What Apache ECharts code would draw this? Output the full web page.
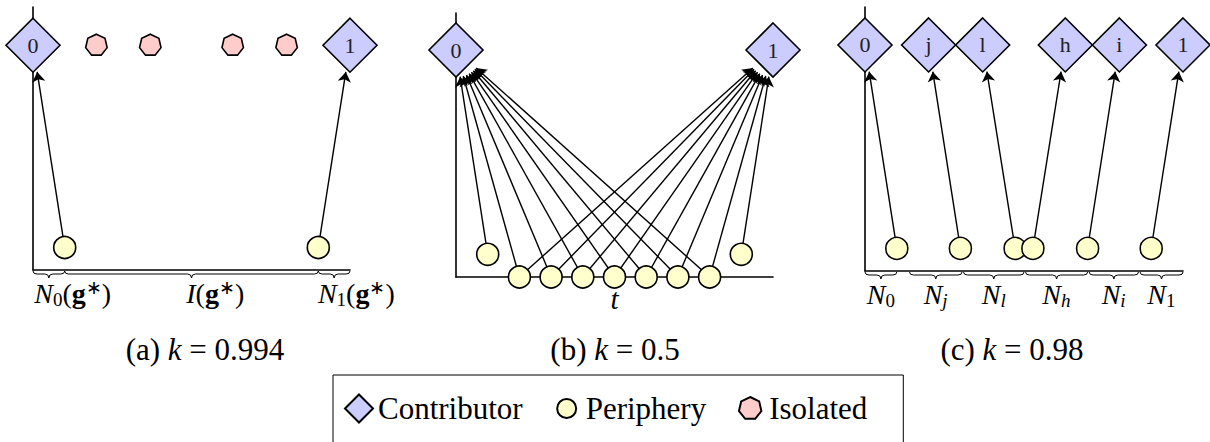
<!DOCTYPE html>
<html><head><meta charset="utf-8">
<script src="https://cdn.jsdelivr.net/npm/echarts@6/dist/echarts.min.js"></script>
<style>html,body{margin:0;padding:0;background:#fff}#c{width:1210px;height:442px}</style>
</head><body><div id="c"></div>
<script>
// ---------- DATA ----------
// Panel (a) k = 0.994
const aContributors = [['0', 0, 1], ['1', 10, 1]];            // name, x, y
const aPeriphery = [['pa0', 1, 0.1, '0'], ['pa1', 9, 0.1, '1']]; // name, x, y, links to
const aIsolated = [['ia0', 2, 1], ['ia1', 3.7, 1], ['ia2', 6.3, 1], ['ia3', 8, 1]];
const aBraces = [[0, 1], [1, 9], [9, 10]];                       // brace from, to
const aBraceLabelX = [1.25, 5.75, 10.2];
const aBraceLabels = ['{i|N}{sub|0}{r|(}{b|g}{sup|∗}{r|)}', '{i|I}{r|(}{b|g}{sup|∗}{r|)}', '{i|N}{sub|1}{r|(}{b|g}{sup|∗}{r|)}'];

// Panel (b) k = 0.5
const bContributors = [['0', 0, 1], ['1', 10, 1]];
const bPeripherySide = [['pb0', 1, 0.1, ['0']], ['pb8', 9, 0.1, ['1']]];
const bPeripheryBottomX = [2, 3, 4, 5, 6, 7, 8];                 // on the t axis, linked to both 0 and 1
const bAxisName = 't';

// Panel (c) k = 0.98
const cContributors = [['0', 0, 1], ['j', 2, 1], ['l', 3.7, 1], ['h', 6.3, 1], ['i', 8, 1], ['1', 10, 1]];
const cPeriphery = [['pc0', 1, 0.1, '0'], ['pcj', 3, 0.1, 'j'], ['pcl', 4.72, 0.1, 'l'], ['pch', 5.28, 0.1, 'h'], ['pci', 7, 0.1, 'i'], ['pc1', 9, 0.1, '1']];
const cBraces = [[0, 1], [1.4, 3.05], [3.1, 5], [5.05, 7], [7.05, 8.6], [8.65, 10]];
const cBraceLabelX = [0.5, 2.22, 4.05, 6.02, 7.82, 9.32];
const cBraceLabels = ['{i|N}{sub|0}', '{i|N}{subi|j}', '{i|N}{subi|l}', '{i|N}{subi|h}', '{i|N}{subi|i}', '{i|N}{sub|1}'];

const captions = ['{r|(a) }{i|k}{r| = 0.994}', '{r|(b) }{i|k}{r| = 0.5}', '{r|(c) }{i|k}{r| = 0.98}'];
const categoryNames = ['Contributor', 'Periphery', 'Isolated'];

// ---------- STYLE ----------
const FONT = 'Liberation Serif';
function makeRich(fs) {
  const sf = Math.round(fs * 0.68), lh = Math.round(fs * 1.1), slh = Math.round(sf * 1.15);
  return {
    i: {fontFamily: FONT, fontStyle: 'italic', fontWeight: 'normal', fontSize: fs, lineHeight: lh, color: '#000'},
    r: {fontFamily: FONT, fontWeight: 'normal', fontSize: fs, lineHeight: lh, color: '#000'},
    b: {fontFamily: FONT, fontWeight: 'bold', fontSize: fs, lineHeight: lh, color: '#000'},
    sub: {fontFamily: FONT, fontWeight: 'normal', fontSize: sf, lineHeight: slh, verticalAlign: 'bottom', color: '#000'},
    subi: {fontFamily: FONT, fontStyle: 'italic', fontWeight: 'normal', fontSize: sf, lineHeight: slh, verticalAlign: 'bottom', color: '#000'},
    sup: {fontFamily: FONT, fontWeight: 'normal', fontSize: sf, lineHeight: slh, verticalAlign: 'top', color: '#000'}
  };
}
const labelRich = makeRich(28);
const captionRich = makeRich(31);

function polyPath(n, r, box) {
  let d = 'M' + (-box) + ' ' + (-box) + ' M' + box + ' ' + box + ' ';
  for (let k = 0; k < n; k++) {
    const a = -Math.PI / 2 + 2 * Math.PI * k / n;
    d += (k ? ' L' : 'M') + (r * Math.cos(a)).toFixed(3) + ' ' + (r * Math.sin(a)).toFixed(3);
  }
  return 'path://' + d + ' Z';
}
function circlePath(r, box) {
  return 'path://M' + (-box) + ' ' + (-box) + ' M' + box + ' ' + box +
    ' M' + r + ' 0 A' + r + ' ' + r + ' 0 1 1 ' + (-r) + ' 0 A' + r + ' ' + r + ' 0 1 1 ' + r + ' 0 Z';
}
const HEPT = polyPath(7, 10, 10);
const HEPT_ICON = polyPath(7, 11.5, 14);
const CIRCLE_ICON = circlePath(9.5, 14);

const catStyle = {
  Contributor: {symbol: 'diamond', symbolSize: 54, itemStyle: {color: '#ccccff', borderColor: '#000', borderWidth: 1.6}},
  Periphery: {symbol: 'circle', symbolSize: 22, itemStyle: {color: '#ffffcc', borderColor: '#000', borderWidth: 1.6}},
  Isolated: {symbol: HEPT, symbolSize: 22, itemStyle: {color: '#ffcccc', borderColor: '#000', borderWidth: 1.6}}
};
const categories = categoryNames.map(n => Object.assign({name: n}, catStyle[n]));

function node(name, x, y, cat) {
  const o = {name: name, value: [x, y], category: categoryNames.indexOf(cat),
    symbol: catStyle[cat].symbol, symbolSize: catStyle[cat].symbolSize};
  if (cat === 'Contributor') {
    o.label = {show: true, position: 'inside', formatter: '{b}', fontFamily: FONT, fontWeight: 'normal', fontSize: 22, color: '#222'};
  }
  return o;
}

function graphSeries(idx, nodes, links) {
  return {
    type: 'graph', coordinateSystem: 'cartesian2d', xAxisIndex: idx, yAxisIndex: idx,
    categories: categories, data: nodes, links: links,
    edgeSymbol: ['none', 'arrow'], edgeSymbolSize: [4, 10],
    lineStyle: {color: '#000', width: 1.4, opacity: 1, curveness: 0},
    label: {show: false}, emphasis: {disabled: true}, silent: true, animation: false, z: 3
  };
}

function braceSeries(idx, braces, labelX, labels) {
  return {
    type: 'custom', coordinateSystem: 'cartesian2d', xAxisIndex: idx, yAxisIndex: idx,
    data: braces.map((b, k) => [b[0], b[1], labelX[k]]), silent: true, animation: false, z: 1,
    renderItem: function (params, api) {
      const p0 = api.coord([api.value(0), 0]);
      const p1 = api.coord([api.value(1), 0]);
      const pl = api.coord([api.value(2), 0]);
      const y = p0[1], x0 = p0[0], x1 = p1[0], m = (x0 + x1) / 2;
      const r = Math.min(4, (x1 - x0) / 4);
      const d = 'M' + x0 + ' ' + (y + 1) + ' Q' + x0 + ' ' + (y + 4) + ' ' + (x0 + r) + ' ' + (y + 4) +
        ' L' + (m - r) + ' ' + (y + 4) + ' Q' + m + ' ' + (y + 4) + ' ' + m + ' ' + (y + 8) +
        ' Q' + m + ' ' + (y + 4) + ' ' + (m + r) + ' ' + (y + 4) +
        ' L' + (x1 - r) + ' ' + (y + 4) + ' Q' + x1 + ' ' + (y + 4) + ' ' + x1 + ' ' + (y + 1);
      return {type: 'group', children: [
        {type: 'path', shape: {pathData: d}, style: {fill: 'none', stroke: '#000', lineWidth: 1}},
        {type: 'text', x: pl[0], y: y + 8, style: {text: labels[params.dataIndex], rich: labelRich, align: 'center', verticalAlign: 'top'}}
      ]};
    }
  };
}

// ---------- BUILD ----------
const aNodes = [], aLinks = [];
aContributors.forEach(c => aNodes.push(node(c[0], c[1], c[2], 'Contributor')));
aIsolated.forEach(c => aNodes.push(node(c[0], c[1], c[2], 'Isolated')));
aPeriphery.forEach(p => { aNodes.push(node(p[0], p[1], p[2], 'Periphery')); aLinks.push({source: p[0], target: p[3]}); });

const bNodes = [], bLinks = [];
bContributors.forEach(c => bNodes.push(node(c[0], c[1], c[2], 'Contributor')));
bPeripherySide.forEach(p => { bNodes.push(node(p[0], p[1], p[2], 'Periphery')); p[3].forEach(t => bLinks.push({source: p[0], target: t})); });
bPeripheryBottomX.forEach((x, k) => {
  const n = 'pbb' + k;
  bNodes.push(node(n, x, 0, 'Periphery'));
  bContributors.forEach(c => bLinks.push({source: n, target: c[0]}));
});

const cNodes = [], cLinks = [];
cContributors.forEach(c => cNodes.push(node(c[0], c[1], c[2], 'Contributor')));
cPeriphery.forEach(p => { cNodes.push(node(p[0], p[1], p[2], 'Periphery')); cLinks.push({source: p[0], target: p[3]}); });

const grids = [
  {left: 33, top: 7, width: 317, height: 263},
  {left: 456, top: 13, width: 317, height: 264},
  {left: 865, top: 7, width: 318, height: 264}
];
const yMax = [1.17, 1.163, 1.168];
const axisLine = {show: true, onZero: false, lineStyle: {color: '#000', width: 1.6}};
const xAxes = grids.map((g, k) => ({
  gridIndex: k, type: 'value', min: 0, max: 10, axisLine: axisLine,
  axisTick: {show: false}, axisLabel: {show: false}, splitLine: {show: false},
  name: k === 1 ? bAxisName : '', nameLocation: 'middle', nameGap: 9,
  nameTextStyle: {fontFamily: FONT, fontStyle: 'italic', fontWeight: 'normal', fontSize: 29, color: '#000', verticalAlign: 'top', lineHeight: 26}
}));
const yAxes = grids.map((g, k) => ({
  gridIndex: k, type: 'value', min: 0, max: yMax[k], axisLine: axisLine,
  axisTick: {show: false}, axisLabel: {show: false}, splitLine: {show: false}
}));

const captionX = [205, 615, 1012];
const option = {
  backgroundColor: '#fff',
  animation: false,
  textStyle: {fontFamily: FONT},
  grid: grids,
  xAxis: xAxes,
  yAxis: yAxes,
  title: captions.map((t, k) => ({
    text: t, left: captionX[k], top: 332, textAlign: 'center', padding: 0,
    textStyle: {rich: captionRich, fontFamily: FONT, fontWeight: 'normal', fontSize: 31}
  })),
  legend: {
    left: 333, top: 375, orient: 'horizontal', selectedMode: false,
    padding: [18, 36, 40, 11], itemGap: 29, itemWidth: 28, itemHeight: 28,
    borderColor: '#000', borderWidth: 1,
    textStyle: {fontFamily: FONT, fontWeight: 'normal', fontSize: 31, color: '#000'},
    data: [{name: 'Contributor', icon: 'diamond'}, {name: 'Periphery', icon: CIRCLE_ICON}, {name: 'Isolated', icon: HEPT_ICON}]
  },
  series: [
    graphSeries(0, aNodes, aLinks),
    graphSeries(1, bNodes, bLinks),
    graphSeries(2, cNodes, cLinks),
    braceSeries(0, aBraces, aBraceLabelX, aBraceLabels),
    braceSeries(2, cBraces, cBraceLabelX, cBraceLabels)
  ]
};
const chart = echarts.init(document.getElementById('c'), null, {renderer: 'svg', width: 1210, height: 442});
chart.setOption(option);
</script>
</body></html>
